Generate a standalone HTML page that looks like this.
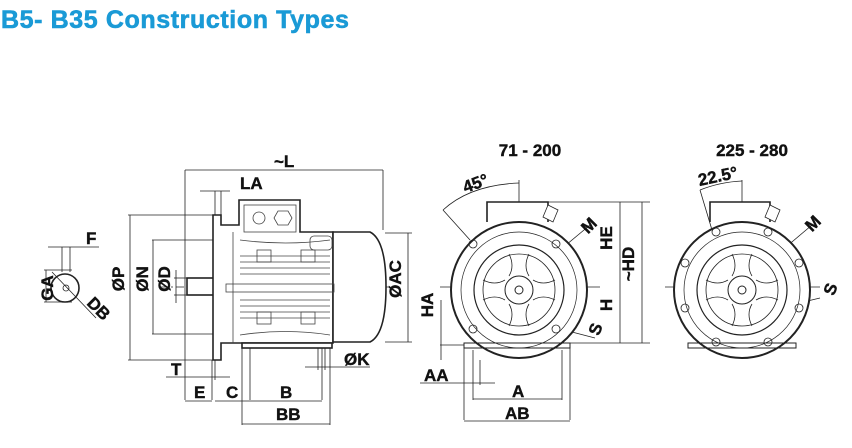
<!DOCTYPE html>
<html><head><meta charset="utf-8"><style>
html,body{margin:0;padding:0;background:#fff;width:852px;height:448px;overflow:hidden}
svg{display:block}
.t{font-family:"Liberation Sans",sans-serif;font-weight:bold;fill:#111}
</style></head><body>
<svg width="852" height="448" viewBox="0 0 852 448" xmlns="http://www.w3.org/2000/svg">
<text x="1" y="28" font-family="Liberation Sans, sans-serif" font-weight="bold" font-size="25" letter-spacing="0.6" fill="#1a9ad6" stroke="#1a9ad6" stroke-width="0.6">B5- B35 Construction Types</text>

<g stroke="#222" fill="none" stroke-width="0.8">
<!-- key view -->
<circle cx="65" cy="288" r="14" stroke-width="1.6"/>
<circle cx="66" cy="288" r="3"/>
<line x1="44" y1="270" x2="72" y2="270"/><line x1="44" y1="302" x2="72" y2="302"/>
<line x1="46" y1="270" x2="46" y2="302"/>
<line x1="48" y1="247" x2="99" y2="247"/><line x1="62" y1="247" x2="62" y2="272"/><line x1="70" y1="247" x2="70" y2="272"/>
<line x1="52" y1="272" x2="96" y2="318"/>

<!-- side view dims -->
<line x1="185" y1="170" x2="383" y2="170"/>
<line x1="185" y1="170" x2="185" y2="400"/><line x1="383" y1="170" x2="383" y2="230"/>
<line x1="200" y1="191" x2="230" y2="191"/><line x1="215" y1="191" x2="215" y2="215"/><line x1="221" y1="191" x2="221" y2="215"/>
<line x1="128" y1="215" x2="213" y2="215"/><line x1="128" y1="360" x2="213" y2="360"/><line x1="130" y1="215" x2="130" y2="360"/>
<line x1="152" y1="240" x2="213" y2="240"/><line x1="152" y1="334" x2="213" y2="334"/><line x1="153" y1="240" x2="153" y2="334"/>
<line x1="174" y1="278" x2="187" y2="278"/><line x1="174" y1="295" x2="187" y2="295"/><line x1="176" y1="270" x2="176" y2="303"/>
<line x1="385" y1="233" x2="412" y2="233"/><line x1="385" y1="342" x2="412" y2="342"/><line x1="408" y1="233" x2="408" y2="342"/>
<line x1="166" y1="377" x2="230" y2="377"/><line x1="212" y1="360" x2="212" y2="400"/><line x1="215" y1="360" x2="215" y2="380"/>
<line x1="185" y1="401" x2="212" y2="401"/><line x1="215" y1="401" x2="250" y2="401"/>
<line x1="250" y1="348" x2="250" y2="400"/><line x1="322" y1="348" x2="322" y2="400"/>
<line x1="250" y1="401" x2="322" y2="401"/>
<line x1="242" y1="348" x2="242" y2="425"/><line x1="330" y1="348" x2="330" y2="425"/>
<line x1="242" y1="424" x2="330" y2="424"/>
<line x1="305" y1="367" x2="370" y2="367"/><line x1="318" y1="348" x2="318" y2="370"/><line x1="325" y1="348" x2="325" y2="370"/>
<line x1="160" y1="287" x2="390" y2="287" stroke-dasharray="8 3 2 3"/>
</g>

<!-- side view body -->
<g stroke="#222" stroke-width="1.6" fill="#fff">
<rect x="187" y="278" width="27" height="17"/>
<path d="M213 215 H221 V225 H239 V200 H300 V232 H333 V343 H221 V360 H213 Z"/>
<path d="M333 232 H370 Q386 240 386 287 Q386 334 370 342 H333 Z"/>
<rect x="242" y="343" width="90" height="5"/>
</g>
<g stroke="#444" stroke-width="0.8" fill="none">
<rect x="244" y="205" width="52" height="27"/>
<circle cx="259" cy="218" r="6"/><polygon points="278,211 288,211 292,218 288,225 278,225 274,218"/>
<line x1="240" y1="256" x2="330" y2="256"/><line x1="240" y1="262" x2="330" y2="262"/><line x1="240" y1="268" x2="330" y2="268"/><line x1="240" y1="274" x2="330" y2="274"/>
<line x1="240" y1="300" x2="330" y2="300"/><line x1="240" y1="306" x2="330" y2="306"/><line x1="240" y1="312" x2="330" y2="312"/><line x1="240" y1="318" x2="330" y2="318"/>
<rect x="257" y="250" width="14" height="12"/><rect x="301" y="250" width="14" height="12"/>
<rect x="257" y="312" width="14" height="12"/><rect x="301" y="312" width="14" height="12"/>
<rect x="226" y="284" width="108" height="8"/><line x1="233" y1="232" x2="233" y2="343"/>
<rect x="310" y="236" width="22" height="14" rx="4"/>
<path d="M240 335 Q286 328 330 335"/><path d="M240 240 Q286 246 330 240"/>
</g>

<!-- front view 1 -->
<g stroke="#222" fill="none" stroke-width="0.8">
<line x1="519" y1="180" x2="519" y2="355"/><line x1="440" y1="287" x2="600" y2="287"/>
<line x1="548" y1="202" x2="650" y2="202"/><line x1="570" y1="343" x2="650" y2="343"/>
<line x1="620" y1="202" x2="620" y2="343"/><line x1="642" y1="202" x2="642" y2="343"/>
<line x1="440" y1="345" x2="464" y2="345"/><line x1="441" y1="300" x2="441" y2="360"/>
<line x1="464" y1="343" x2="464" y2="420"/><line x1="570" y1="343" x2="570" y2="420"/>
<line x1="473" y1="350" x2="473" y2="400"/><line x1="562" y1="350" x2="562" y2="400"/>
<line x1="473" y1="399" x2="562" y2="399"/><line x1="464" y1="421" x2="570" y2="421"/>
<line x1="420" y1="383" x2="495" y2="383"/><line x1="480" y1="360" x2="480" y2="385"/>
<path d="M443 210 Q470 185 519 183"/><line x1="443" y1="210" x2="470" y2="240"/>
<line x1="470" y1="325" x2="590" y2="225"/><line x1="545" y1="325" x2="595" y2="338"/>
</g>
<g stroke="#222" fill="#fff">
<path d="M487 222 V202 H548 V222" stroke-width="1.6"/>
<circle cx="519" cy="290" r="68" stroke-width="2"/>
<rect x="464" y="343" width="106" height="5" stroke-width="1" fill="none"/>
<circle cx="519" cy="290" r="58" stroke-width="0.7" fill="none"/>
<circle cx="519" cy="290" r="45" stroke-width="1.2" fill="none"/>
<circle cx="519" cy="290" r="36" stroke-width="0.8" fill="none"/>
<circle cx="519" cy="290" r="14" stroke-width="1" fill="none"/>
<circle cx="519" cy="290" r="4" stroke-width="1" fill="none"/>
<g stroke-width="0.8" fill="none"><circle cx="473" cy="244" r="4"/><circle cx="556" cy="244" r="4"/><circle cx="473" cy="329" r="4"/><circle cx="556" cy="329" r="4"/>
<path d="M509 254 Q515 266 509 276 M529 254 Q523 266 529 276 M509 304 Q515 314 509 326 M529 304 Q523 314 529 326 M483 280 Q495 286 505 280 M483 300 Q495 294 505 300 M533 280 Q543 286 555 280 M533 300 Q543 294 555 300"/></g>
<path d="M548 205 l10 5 l-5 12 l-10 -5 z" stroke-width="0.8"/>
</g>

<!-- front view 2 -->
<g stroke="#222" fill="none" stroke-width="0.8">
<line x1="742" y1="180" x2="742" y2="355"/><line x1="665" y1="287" x2="820" y2="287"/>
<path d="M700 190 Q720 182 742 181"/><line x1="700" y1="190" x2="712" y2="230"/>
<line x1="690" y1="328" x2="812" y2="225"/><line x1="770" y1="310" x2="820" y2="298"/>
</g>
<g stroke="#222" fill="#fff">
<path d="M710 222 V202 H770 V222" stroke-width="1.6"/>
<circle cx="742" cy="290" r="68" stroke-width="2"/>
<rect x="688" y="343" width="108" height="5" stroke-width="1" fill="none"/>
<circle cx="742" cy="290" r="58" stroke-width="0.7" fill="none"/>
<circle cx="742" cy="290" r="45" stroke-width="1.2" fill="none"/>
<circle cx="742" cy="290" r="36" stroke-width="0.8" fill="none"/>
<circle cx="742" cy="290" r="14" stroke-width="1" fill="none"/>
<circle cx="742" cy="290" r="4" stroke-width="1" fill="none"/>
<g stroke-width="0.8" fill="none"><circle cx="716" cy="232" r="4"/><circle cx="768" cy="232" r="4"/><circle cx="685" cy="263" r="4"/><circle cx="799" cy="263" r="4"/><circle cx="685" cy="308" r="4"/><circle cx="799" cy="308" r="4"/><circle cx="716" cy="342" r="4"/><circle cx="768" cy="342" r="4"/>
<path d="M732 254 Q738 266 732 276 M752 254 Q746 266 752 276 M732 304 Q738 314 732 326 M752 304 Q746 314 752 326 M706 280 Q718 286 728 280 M706 300 Q718 294 728 300 M756 280 Q766 286 778 280 M756 300 Q766 294 778 300"/></g>
<path d="M770 205 l10 5 l-5 12 l-10 -5 z" stroke-width="0.8"/>
</g>

<!-- labels -->
<g class="t" font-size="17" stroke="#111" stroke-width="0.4">
<text x="274" y="167">~L</text>
<text x="240" y="189">LA</text>
<text x="86" y="244">F</text>
<text x="45" y="296" transform="rotate(-90 45 288)" text-anchor="middle">GA</text>
<text x="86" y="304" transform="rotate(45 86 304)">DB</text>
<text x="130" y="285" transform="rotate(-90 124 285)" text-anchor="middle">ØP</text>
<text x="154" y="285" transform="rotate(-90 148 285)" text-anchor="middle">ØN</text>
<text x="176" y="285" transform="rotate(-90 170 285)" text-anchor="middle">ØD</text>
<text x="407" y="285" transform="rotate(-90 401 285)" text-anchor="middle">ØAC</text>
<text x="171" y="375">T</text>
<text x="194" y="398">E</text>
<text x="226" y="398">C</text>
<text x="280" y="398">B</text>
<text x="276" y="420">BB</text>
<text x="344" y="365">ØK</text>
<text x="530" y="156" text-anchor="middle">71 - 200</text>
<text x="752" y="156" text-anchor="middle">225 - 280</text>
<text x="463" y="190" transform="rotate(-20 473 185)">45°</text>
<text x="698" y="184" transform="rotate(-12 708 178)">22.5°</text>
<text x="582" y="232" transform="rotate(-45 588 226)">M</text>
<text x="806" y="230" transform="rotate(-45 812 224)">M</text>
<text x="591" y="335" transform="rotate(-70 596 330)">S</text>
<text x="826" y="295" transform="rotate(-70 831 290)">S</text>
<text x="618" y="244" transform="rotate(-90 612 244)" text-anchor="middle">HE</text>
<text x="640" y="270" transform="rotate(-90 634 270)" text-anchor="middle">~HD</text>
<text x="618" y="311" transform="rotate(-90 612 311)" text-anchor="middle">H</text>
<text x="439" y="311" transform="rotate(-90 433 311)" text-anchor="middle">HA</text>
<text x="424" y="381">AA</text>
<text x="512" y="397">A</text>
<text x="505" y="419">AB</text>
</g>
</svg>
</body></html>
